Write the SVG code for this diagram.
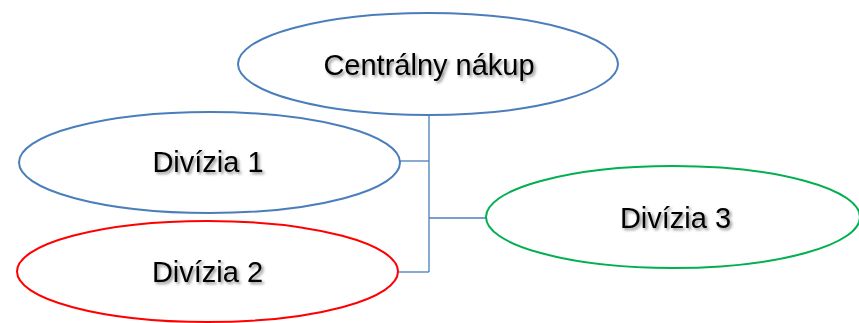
<svg xmlns="http://www.w3.org/2000/svg" width="859" height="323" viewBox="0 0 859 323">
  <defs>
    <filter id="txtShadow" x="-10%" y="-30%" width="120%" height="160%">
      <feDropShadow dx="2" dy="2" stdDeviation="1.5" flood-color="#000" flood-opacity="0.45"/>
    </filter>
  </defs>
  <style>
    .node { fill: #ffffff; stroke-width: 2; }
    .blue { stroke: #4A7EBB; }
    .red { stroke: #FF0000; }
    .green { stroke: #00B050; }
    .label { font-family: "Liberation Sans", Arial, sans-serif; font-size: 29px; fill: #000; text-anchor: middle; filter: url(#txtShadow); }
    .link { stroke: #4A7EBB; stroke-width: 1.3; fill: none; }
  </style>
  <rect width="859" height="323" fill="#ffffff"/>

  <g id="connectors">
    <path class="link" d="M429 115 V272"/>
    <path class="link" d="M399 161 H429"/>
    <path class="link" d="M398 272 H429"/>
    <path class="link" d="M429 218 H486"/>
  </g>

  <g id="centralny-nakup">
    <ellipse class="node blue" cx="428" cy="64" rx="190" ry="51"/>
    <text class="label" x="429" y="75">Centrálny nákup</text>
  </g>

  <g id="divizia-1">
    <ellipse class="node blue" cx="209.5" cy="162.5" rx="190.5" ry="50.5"/>
    <text class="label" x="208" y="172">Divízia 1</text>
  </g>

  <g id="divizia-2">
    <ellipse class="node red" cx="207.5" cy="271.5" rx="190.5" ry="50.5"/>
    <text class="label" x="207.5" y="282">Divízia 2</text>
  </g>

  <g id="divizia-3">
    <ellipse class="node green" cx="673" cy="217" rx="187" ry="51"/>
    <text class="label" x="675.5" y="228">Divízia 3</text>
  </g>
</svg>
